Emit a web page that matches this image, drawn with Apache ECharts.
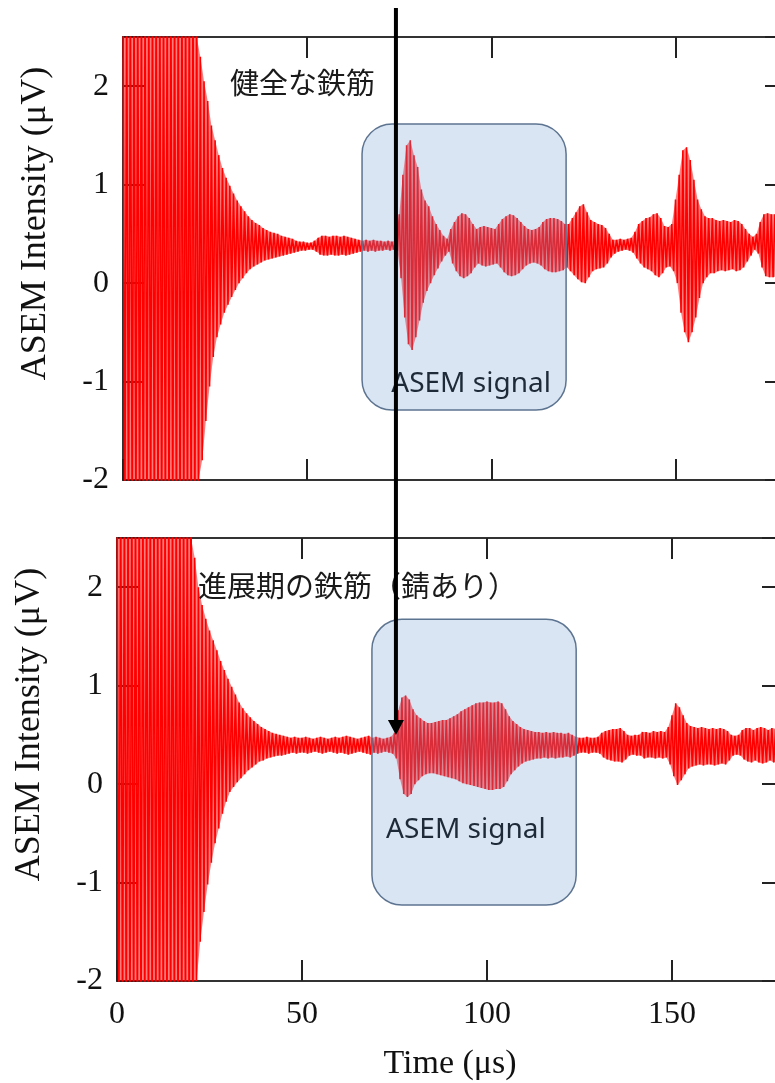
<!DOCTYPE html>
<html><head><meta charset="utf-8">
<script src="https://cdn.jsdelivr.net/npm/echarts@6/dist/echarts.min.js"></script>
<style>html,body{margin:0;padding:0;background:#fff}#c{width:775px;height:1083px}</style>
</head><body><div id="c"></div>
<script>
// ---- data ----
const xTicks = [0, 50, 100, 150];
const yTicks = [-2, -1, 0, 1, 2];
const timeStart = 0, timeStep = 1;   // one envelope bin per microsecond (0..180)

// Upper / lower envelope of the waveform in each 1 µs bin, panel 1 (健全な鉄筋)
const topHi = [
  3,3,3,3,3,3,3,3,3,3,
  3,3,3,3,3,3,3,3,3,3,
  3,2.3,2.05,1.85,1.6,1.45,1.3,1.17,1.07,0.99,
  0.91,0.84,0.78,0.73,0.68,0.64,0.61,0.59,0.56,0.54,
  0.52,0.51,0.5,0.48,0.47,0.46,0.45,0.43,0.42,0.42,
  0.41,0.41,0.43,0.46,0.48,0.48,0.47,0.48,0.48,0.47,
  0.48,0.47,0.46,0.45,0.44,0.43,0.44,0.43,0.44,0.43,
  0.43,0.42,0.43,0.42,0.43,0.7,1.1,1.4,1.45,1.3,
  1.18,0.95,0.84,0.78,0.68,0.6,0.54,0.48,0.45,0.55,
  0.62,0.68,0.71,0.7,0.66,0.6,0.55,0.57,0.58,0.57,
  0.56,0.55,0.6,0.65,0.68,0.7,0.69,0.66,0.62,0.58,
  0.55,0.54,0.55,0.57,0.62,0.65,0.66,0.66,0.65,0.63,
  0.6,0.6,0.66,0.72,0.78,0.8,0.72,0.64,0.62,0.6,
  0.59,0.56,0.5,0.44,0.44,0.45,0.44,0.45,0.46,0.52,
  0.6,0.63,0.66,0.67,0.7,0.71,0.66,0.58,0.57,0.6,
  0.85,1.1,1.35,1.38,1.25,1.05,0.85,0.75,0.68,0.66,
  0.66,0.64,0.63,0.64,0.63,0.62,0.64,0.63,0.6,0.55,
  0.5,0.47,0.5,0.62,0.7,0.71,0.7,0.7,0.68,0.66,
  0.64
];
const topLo = [
  -2.5,-2.5,-2.5,-2.5,-2.5,-2.5,-2.5,-2.5,-2.5,-2.5,
  -2.5,-2.5,-2.5,-2.5,-2.5,-2.5,-2.5,-2.5,-2.5,-2.5,
  -2.2,-1.8,-1.4,-1.05,-0.75,-0.55,-0.42,-0.3,-0.22,-0.14,
  -0.07,0,0.05,0.1,0.14,0.17,0.19,0.21,0.23,0.24,
  0.25,0.26,0.27,0.28,0.29,0.3,0.31,0.32,0.33,0.33,
  0.34,0.34,0.32,0.29,0.28,0.28,0.29,0.28,0.28,0.29,
  0.28,0.29,0.3,0.31,0.32,0.33,0.32,0.33,0.32,0.33,
  0.33,0.34,0.33,0.34,0.33,0.05,-0.35,-0.62,-0.68,-0.55,
  -0.38,-0.2,-0.08,0,0.08,0.15,0.22,0.28,0.32,0.2,
  0.12,0.07,0.05,0.07,0.1,0.16,0.2,0.18,0.17,0.18,
  0.19,0.2,0.16,0.11,0.08,0.07,0.08,0.1,0.14,0.18,
  0.2,0.21,0.2,0.18,0.14,0.12,0.11,0.11,0.12,0.13,
  0.16,0.12,0.08,0.04,0.01,0,0.06,0.12,0.14,0.15,
  0.16,0.2,0.26,0.3,0.32,0.33,0.34,0.33,0.31,0.25,
  0.2,0.16,0.14,0.12,0.08,0.06,0.1,0.16,0.17,0.12,
  0,-0.3,-0.5,-0.6,-0.5,-0.35,-0.15,0,0.06,0.1,
  0.1,0.12,0.13,0.12,0.13,0.14,0.12,0.13,0.16,0.22,
  0.28,0.34,0.3,0.16,0.07,0.06,0.06,0.07,0.08,0.1,
  0.12
];
// Panel 2 (進展期の鉄筋（錆あり）)
const botHi = [
  3,3,3,3,3,3,3,3,3,3,
  3,3,3,3,3,3,3,3,3,3,
  3,2.3,2.0,1.82,1.68,1.56,1.46,1.36,1.25,1.16,
  1.07,0.99,0.91,0.83,0.77,0.72,0.68,0.64,0.61,0.58,
  0.56,0.54,0.52,0.51,0.5,0.49,0.48,0.47,0.48,0.47,
  0.47,0.48,0.47,0.46,0.47,0.48,0.47,0.46,0.47,0.48,
  0.47,0.48,0.49,0.48,0.47,0.46,0.47,0.48,0.49,0.47,
  0.48,0.47,0.46,0.47,0.48,0.52,0.75,0.88,0.9,0.86,
  0.76,0.7,0.67,0.64,0.62,0.62,0.63,0.64,0.65,0.65,
  0.67,0.69,0.71,0.74,0.76,0.78,0.8,0.82,0.83,0.83,
  0.84,0.83,0.83,0.84,0.82,0.76,0.69,0.64,0.61,0.58,
  0.56,0.55,0.54,0.53,0.53,0.52,0.53,0.52,0.53,0.52,
  0.52,0.51,0.52,0.5,0.48,0.47,0.47,0.48,0.47,0.47,
  0.48,0.52,0.54,0.55,0.56,0.56,0.57,0.54,0.5,0.49,
  0.5,0.5,0.53,0.53,0.52,0.54,0.53,0.54,0.53,0.58,
  0.7,0.82,0.78,0.7,0.62,0.59,0.58,0.57,0.58,0.57,
  0.56,0.57,0.56,0.57,0.56,0.54,0.5,0.49,0.5,0.55,
  0.57,0.57,0.55,0.57,0.58,0.57,0.55,0.57,0.56,0.55,
  0.56
];
const botLo = [
  -2.5,-2.5,-2.5,-2.5,-2.5,-2.5,-2.5,-2.5,-2.5,-2.5,
  -2.5,-2.5,-2.5,-2.5,-2.5,-2.5,-2.5,-2.5,-2.5,-2.5,
  -2.5,-2.0,-1.6,-1.3,-1.02,-0.8,-0.6,-0.45,-0.3,-0.18,
  -0.08,-0.03,0.02,0.06,0.1,0.14,0.17,0.2,0.23,0.24,
  0.26,0.27,0.28,0.29,0.29,0.3,0.31,0.32,0.31,0.32,
  0.32,0.31,0.32,0.33,0.32,0.31,0.32,0.33,0.32,0.31,
  0.32,0.31,0.3,0.31,0.32,0.33,0.32,0.31,0.3,0.32,
  0.31,0.32,0.33,0.32,0.31,0.26,0.05,-0.1,-0.13,-0.1,
  0,0.04,0.08,0.1,0.11,0.11,0.1,0.09,0.08,0.07,
  0.06,0.05,0.03,0.01,0,-0.01,-0.02,-0.03,-0.04,-0.05,
  -0.06,-0.06,-0.05,-0.05,-0.03,0.03,0.1,0.14,0.18,0.21,
  0.23,0.24,0.25,0.26,0.26,0.27,0.26,0.27,0.26,0.27,
  0.27,0.28,0.27,0.29,0.31,0.32,0.32,0.31,0.32,0.32,
  0.31,0.27,0.25,0.24,0.23,0.23,0.22,0.25,0.29,0.3,
  0.29,0.29,0.26,0.27,0.27,0.26,0.27,0.26,0.27,0.2,
  0.08,-0.01,0.04,0.1,0.16,0.18,0.19,0.2,0.19,0.2,
  0.2,0.19,0.2,0.21,0.2,0.24,0.29,0.3,0.29,0.25,
  0.23,0.22,0.24,0.22,0.21,0.22,0.24,0.22,0.23,0.24,
  0.23
];

const titleTop = '健全な鉄筋';
const titleBottom = '進展期の鉄筋（錆あり）';
const boxLabel = 'ASEM signal';
const yName = 'ASEM Intensity (μV)';
const xName = 'Time (μs)';

// annotation anchors in data units [time, value]
const topTitleAt = [29.05, 2.03];
const botTitleAt = [21.9, 2.01];
const topBox = {t0: 64.9, t1: 120.3, v0: 1.616, v1: -1.289, labelAt: [94.5, -1.025]};
const botBox = {t0: 68.9, t1: 124.1, v0: 1.674, v1: -1.228, labelAt: [94.3, -0.466]};
const arrowTopAt = [74.1, 2.795];   // top panel units
const arrowTipValue = [75.3, 0.499]; // bottom panel units

// ---- build ----
const Y_MIN = -2, Y_MAX = 2.5;
function envelopeSeries(hi, lo) {
  const out = [];
  for (let i = 0; i < hi.length; i++) {
    const t = timeStart + i * timeStep;
    out.push([t, hi[i]]);
    out.push([t + timeStep / 2, lo[i]]);
  }
  return out;
}
function bandRows(hi, lo) {
  return hi.map((h, i) => [timeStart + i * timeStep, h, lo[i]]);
}
function bandRender(hi, lo) {
  const clampV = v => Math.max(Y_MIN, Math.min(Y_MAX, v));
  return function (params, api) {
    if (params.dataIndex !== 0) return null;
    const up = [], dn = [];
    for (let i = 0; i < hi.length; i++) {
      const t = timeStart + i * timeStep;
      up.push(api.coord([t, clampV(hi[i])]));
      dn.push(api.coord([t + timeStep / 2, clampV(lo[i])]));
    }
    return {type: 'polygon', shape: {points: up.concat(dn.reverse())},
      style: {fill: 'rgba(255,0,0,0.5)'}, silent: true};
  };
}

const serif = 'Liberation Serif';
const tickStyle = {show: true, inside: true, length: 21, lineStyle: {color: '#222', width: 2}};

function xAx(grid, pos, showLabels, name) {
  return {
    type: 'value', gridIndex: grid, position: pos, min: 0, max: 180, interval: 50,
    axisLine: {show: false, onZero: false}, splitLine: {show: false}, axisTick: tickStyle,
    axisLabel: {show: showLabels, margin: 18, fontFamily: serif, fontSize: 32, color: '#111',
      formatter: v => xTicks.includes(v) ? String(v) : ''},
    name: name || '', nameLocation: 'middle', nameGap: 66,
    nameTextStyle: {fontFamily: serif, fontSize: 34, color: '#111'}
  };
}
function yAx(grid, pos, showLabels, name) {
  return {
    type: 'value', gridIndex: grid, position: pos, min: Y_MIN, max: Y_MAX, interval: 1,
    axisLine: {show: false, onZero: false}, splitLine: {show: false}, axisTick: tickStyle,
    axisLabel: {show: showLabels, margin: 14, fontFamily: serif, fontSize: 32, color: '#111',
      formatter: v => yTicks.includes(v) ? String(v) : ''},
    name: name || '', nameLocation: 'middle', nameGap: 69, nameRotate: 90,
    nameTextStyle: {fontFamily: serif, fontSize: 36, color: '#111', padding: [0, 0, 0, 70]}
  };
}

const chart = echarts.init(document.getElementById('c'), null, {renderer: 'canvas'});
const gridStyle = {show: true, borderColor: '#333', borderWidth: 2, backgroundColor: 'transparent',
  containLabel: false, outerBoundsMode: 'none'};
chart.setOption({
  animation: false,
  backgroundColor: '#fff',
  grid: [
    Object.assign({left: 123, top: 37, width: 663, height: 443}, gridStyle),
    Object.assign({left: 117, top: 538, width: 666, height: 443}, gridStyle)
  ],
  xAxis: [xAx(0, 'bottom', false), xAx(0, 'top', false), xAx(1, 'bottom', true, xName), xAx(1, 'top', false)],
  yAxis: [yAx(0, 'left', true, yName), yAx(0, 'right', false), yAx(1, 'left', true, yName), yAx(1, 'right', false)],
  series: [
    {type: 'line', xAxisIndex: 0, yAxisIndex: 0, data: envelopeSeries(topHi, topLo),
      symbol: 'none', lineStyle: {color: '#ff0000', width: 1.6}, clip: true, silent: true, z: 3},
    {type: 'line', xAxisIndex: 2, yAxisIndex: 2, data: envelopeSeries(botHi, botLo),
      symbol: 'none', lineStyle: {color: '#ff0000', width: 1.6}, clip: true, silent: true, z: 3},
    {type: 'custom', xAxisIndex: 0, yAxisIndex: 0, data: bandRows(topHi, topLo), clip: true,
      renderItem: bandRender(topHi, topLo), silent: true, z: 2},
    {type: 'custom', xAxisIndex: 2, yAxisIndex: 2, data: bandRows(botHi, botLo), clip: true,
      renderItem: bandRender(botHi, botLo), silent: true, z: 2}
  ]
});

const px = (s, pt) => chart.convertToPixel({seriesIndex: s}, pt);
function boxGraphics(s, b) {
  const a = px(s, [b.t0, b.v0]), c = px(s, [b.t1, b.v1]), l = px(s, b.labelAt);
  return [
    {type: 'rect', z: 50, shape: {x: a[0], y: a[1], width: c[0] - a[0], height: c[1] - a[1], r: 30},
      style: {fill: 'rgba(120,160,210,0.27)', stroke: '#5d7491', lineWidth: 1.5}},
    {type: 'text', z: 51, style: {text: boxLabel, x: l[0], y: l[1], align: 'center', verticalAlign: 'middle',
      font: '28px "Noto Sans"', fill: '#1e2a38'}}
  ];
}
const t1 = px(0, topTitleAt), t2 = px(1, botTitleAt);
const aTop = px(0, arrowTopAt), aTip = px(1, arrowTipValue);
const ax = aTop[0], headH = 15, headW = 8;
chart.setOption({
  graphic: [
    ...boxGraphics(0, topBox),
    ...boxGraphics(1, botBox),
    {type: 'text', z: 60, style: {text: titleTop, x: t1[0], y: t1[1], align: 'left', verticalAlign: 'middle',
      font: '29px "Noto Sans CJK JP"', fill: '#1a1a1a'}},
    {type: 'text', z: 60, style: {text: titleBottom, x: t2[0], y: t2[1], align: 'left', verticalAlign: 'middle',
      font: '29px "Noto Sans CJK JP"', fill: '#1a1a1a'}},
    {type: 'line', z: 70, shape: {x1: ax, y1: aTop[1], x2: ax, y2: aTip[1] - headH + 1},
      style: {stroke: '#000', lineWidth: 4}},
    {type: 'polygon', z: 70, shape: {points: [[ax - headW, aTip[1] - headH], [ax + headW, aTip[1] - headH], [ax, aTip[1]]]},
      style: {fill: '#000'}}
  ]
});
</script>
</body></html>
